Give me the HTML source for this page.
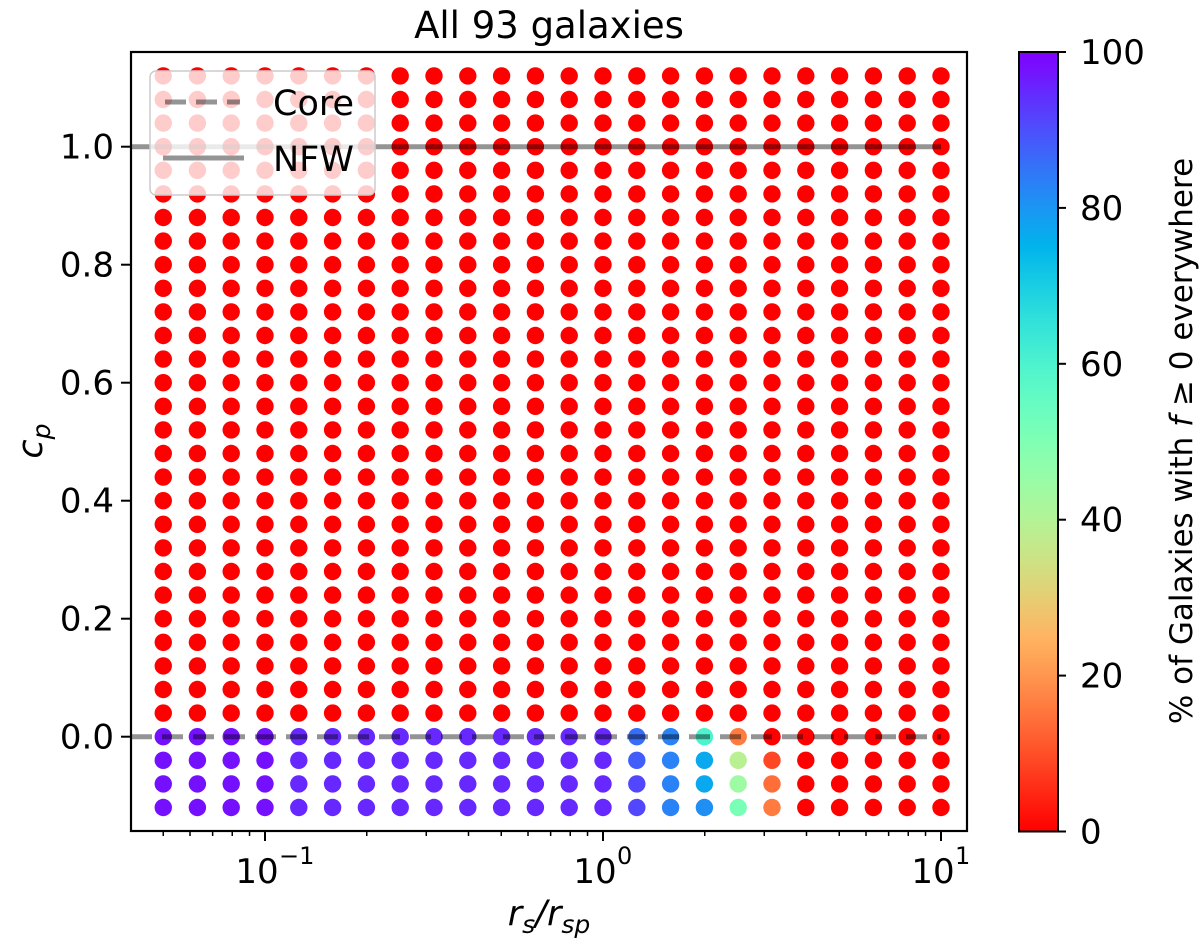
<!DOCTYPE html>
<html><head><meta charset="utf-8"><style>
body{margin:0;background:#fff;}
svg{display:block;font-family:"DejaVu Sans","Liberation Sans",sans-serif;}
</style></head><body>
<svg id="chart" width="1200" height="941"></svg>
<script>
const xExp = [-1.301,-1.2,-1.1,-1.0,-0.9,-0.8,-0.7,-0.6,-0.5,-0.4,-0.3,-0.2,-0.1,0.0,0.1,0.2,0.3,0.4,0.5,0.6,0.7,0.8,0.9,1.0];
const cpValues = [-0.12,-0.08,-0.04,0,0.04,0.08,0.12,0.16,0.2,0.24,0.28,0.32,0.36,0.4,0.44,0.48,0.52,0.56,0.6,0.64,0.68,0.72,0.76,0.8,0.84,0.88,0.92,0.96,1.0,1.04,1.08,1.12];
// percent values for cp = 0, -0.04, -0.08, -0.12 (all higher rows are 0)
const pctRow0   = [98,98,98,98,95,95,95,95,95,95,95,95,95,95,86,83,60,16,0,0,0,0,0,0];
const pctRowM04 = [98,98,98,98,95,95,95,95,95,95,95,95,95,95,88,83,77,39,9,0,0,0,0,0];
const pctRowM08 = [98,98,98,98,95,95,95,95,95,95,95,95,95,95,91,83,77,44,14,0,0,0,0,0];
const pctRowM12 = [98,98,98,98,95,95,95,95,95,95,95,95,95,95,91,83,81,51,16,0,0,0,0,0];
const yTicks = [0.0,0.2,0.4,0.6,0.8,1.0];
const yTickLabels = ["0.0","0.2","0.4","0.6","0.8","1.0"];
const cbTicks = [0,20,40,60,80,100];

const NS="http://www.w3.org/2000/svg";
const svg=document.getElementById('chart');
const L=131,R=967,T=52,B=831;
const sx=e=>265+(e+1)*338;
const sy=v=>736.7-v*590;
const sc=p=>831.5-p*7.795;
function mk(tag,attrs,parent){const e=document.createElementNS(NS,tag);for(const k in attrs)e.setAttribute(k,attrs[k]);(parent||svg).appendChild(e);return e;}
function cmap(p){const x=1-p/100;let r=Math.min(1,Math.abs(2*x-0.5)),g=Math.sin(Math.PI*x),b=Math.cos(Math.PI*x/2);
 return `rgb(${Math.round(r*255)},${Math.round(Math.max(0,g)*255)},${Math.round(Math.max(0,b)*255)})`;}
function pct(ri,ci){const v=cpValues[ri];
 if(Math.abs(v)<1e-9)return pctRow0[ci];
 if(Math.abs(v+0.04)<1e-9)return pctRowM04[ci];
 if(Math.abs(v+0.08)<1e-9)return pctRowM08[ci];
 if(Math.abs(v+0.12)<1e-9)return pctRowM12[ci];
 return 0;}

// title
const title=mk('text',{x:549,y:38,'font-size':37,'text-anchor':'middle'});


title.textContent='All 93 galaxies';

// points
const pts=mk('g',{});


cpValues.forEach((v,ri)=>{xExp.forEach((e,ci)=>{
 const c=mk('circle',{cx:sx(e),cy:sy(v),r:8.7,fill:cmap(pct(ri,ci))},pts);
 
 
});});

// reference lines
const nfw=mk('line',{x1:L,x2:sx(1),y1:sy(1),y2:sy(1),stroke:'rgba(0,0,0,0.42)','stroke-width':5});


const core=mk('line',{x1:L,x2:sx(1),y1:sy(0),y2:sy(0),stroke:'rgba(0,0,0,0.42)','stroke-width':5,'stroke-dasharray':'21 10'});



// legend
const lg=mk('g',{});


mk('rect',{x:150,y:71,width:225,height:124,rx:6,fill:'rgba(255,255,255,0.8)',stroke:'#ccc','stroke-width':1.5},lg);
mk('line',{x1:165,x2:240,y1:102,y2:102,stroke:'rgba(0,0,0,0.42)','stroke-width':5,'stroke-dasharray':'21 10'},lg);
mk('line',{x1:163,x2:244,y1:158,y2:158,stroke:'rgba(0,0,0,0.42)','stroke-width':5},lg);
const t1=mk('text',{x:273,y:115,'font-size':35},lg);t1.textContent='Core';


const t2=mk('text',{x:273,y:171,'font-size':35},lg);t2.textContent='NFW';



// axes frame
const fr=mk('rect',{x:L,y:T,width:R-L,height:B-T,fill:'none',stroke:'#000','stroke-width':2.2});



// y ticks
yTicks.forEach((v,i)=>{
 mk('line',{x1:L-10,x2:L,y1:sy(v),y2:sy(v),stroke:'#000','stroke-width':2});
 const t=mk('text',{x:L-17,y:sy(v)+12,'font-size':34,'text-anchor':'end'});
 
 
 t.textContent=yTickLabels[i];
});
// x ticks
for(let d=-2;d<=1;d++){
 for(let m=1;m<10;m++){
  const e=d+Math.log10(m);const x=sx(e);
  if(x<L-0.5||x>R+0.5)continue;
  const len=m===1?10:5;
  mk('line',{x1:x,x2:x,y1:B,y2:B+len,stroke:'#000','stroke-width':m===1?2:1.5});
  if(m===1){
   const t=mk('text',{x:x-8,y:B+52,'font-size':34,'text-anchor':'middle'});
   
   
   t.textContent='10';
   const s=mk('text',{x:x+14,y:B+33,'font-size':24,'text-anchor':'start'});
   s.textContent=d<0?'\u2212'+Math.abs(d):String(d);
  }
 }
}
// axis labels
const xl=mk('text',{x:549,y:925,'font-size':35,'text-anchor':'middle','font-style':'italic'});


xl.innerHTML='r<tspan font-size="25" dy="8">s</tspan><tspan dy="-8">/r</tspan><tspan font-size="25" dy="8">sp</tspan>';
const yl=mk('text',{x:0,y:0,'font-size':35,'text-anchor':'middle','font-style':'italic',transform:'translate(42,441) rotate(-90)'});


yl.innerHTML='c<tspan font-size="25" dy="8">p</tspan>';

// colorbar
const defs=mk('defs',{});
const grad=mk('linearGradient',{id:'cbg',x1:0,y1:1,x2:0,y2:0},defs);
for(let i=0;i<=20;i++){mk('stop',{offset:(i/20),'stop-color':cmap(i*5)},grad);}
const cb=mk('rect',{x:1019,y:sc(100),width:39,height:sc(0)-sc(100),fill:'url(#cbg)',stroke:'#000','stroke-width':2});


cbTicks.forEach(p=>{
 mk('line',{x1:1058,x2:1066,y1:sc(p),y2:sc(p),stroke:'#000','stroke-width':2});
 const t=mk('text',{x:1080,y:sc(p)+12,'font-size':34});
 
 
 t.textContent=String(p);
});
const cl=mk('text',{x:0,y:0,'font-size':31,'text-anchor':'middle',transform:'translate(1192,441) rotate(-90)'});


cl.innerHTML='% of Galaxies with <tspan font-style="italic">f</tspan> \u2265 0 everywhere';
</script>
</body></html>
